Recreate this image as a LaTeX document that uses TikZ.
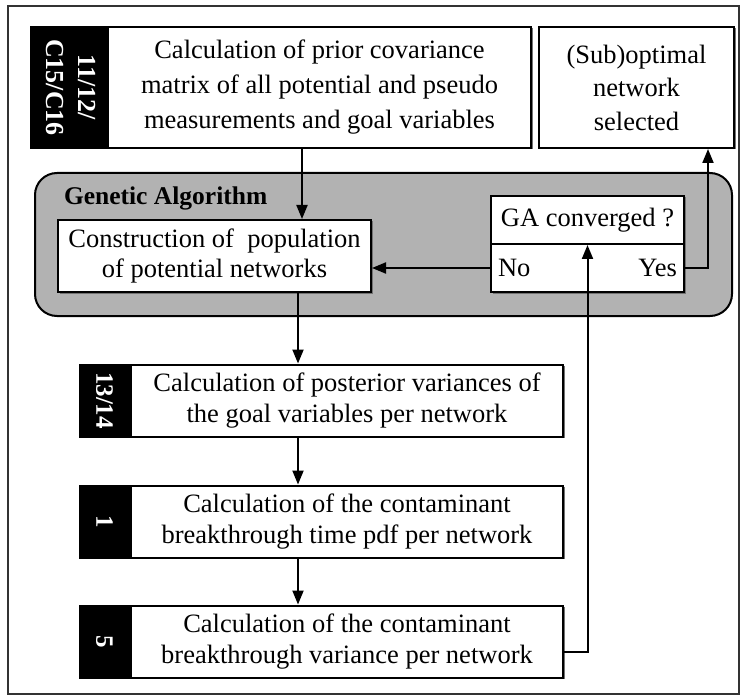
\documentclass[tikz,border=0pt]{standalone}
\usepackage{graphicx}
\usepackage{fontspec}
\setmainfont{Liberation Serif}
\usetikzlibrary{arrows.meta,positioning,shadows}

\tikzset{
  wh/.style 2 args={minimum width=#1, minimum height=#2},
  stepbox/.style={draw, fill=white, align=center, inner sep=0pt,
    font=\fontsize{26.5}{31.5}\selectfont,
    drop shadow={shadow xshift=1.5pt, shadow yshift=-1.5pt, fill=black!55, opacity=1}},
  widestep/.style={stepbox, font=\fontsize{26.5}{35}\selectfont},
  tabbox/.style={draw, fill=black, text=white, inner sep=0pt,
    font=\fontsize{25}{32}\selectfont\bfseries},
  garegion/.style={draw, fill=black!30, rounded corners=22pt, inner sep=0pt},
  answer/.style={inner sep=0pt, font=\fontsize{26.5}{32}\selectfont},
}

\begin{document}
\begin{tikzpicture}[x=1pt, y=-1pt, >={Triangle[length=14pt,width=11pt]}, line width=2pt]
    \useasboundingbox (0,0) rectangle (743,700);
    \draw [line width=1.2pt, black!80] (8,6) rectangle (739,694);

    % Top row
    \node [widestep, wh={423}{121}]  (prior)    at (319.5,87.5)
        {Calculation of prior covariance\\matrix of all potential and pseudo\\measurements and goal variables};
    \node [tabbox, wh={75}{121}, anchor=east, font=\fontsize{26}{32}\selectfont\bfseries] (priortab) at (prior.west)
        {\rotatebox{-90}{\begin{tabular}{@{}c@{}}11/12/\\C15/C16\end{tabular}}};
    \node [widestep, wh={195}{121}, font=\fontsize{26.5}{33.5}\selectfont]  (subopt)   at (636.5,87.5)
        {(Sub)optimal\\network\\selected};

    % Genetic algorithm block
    \node [garegion, wh={697}{143}] (ga)       at (383.5,244.5) {};
    \node [answer, anchor=west, font=\fontsize{25.5}{30}\selectfont\bfseries] (galabel) at (63,198)
        {Genetic Algorithm};
    \node [stepbox, wh={313}{72}, font=\fontsize{26.5}{30}\selectfont]   (construct) at (214.5,256)
        {Construction of~ population\\of potential networks};
    \node [stepbox, wh={193}{48}]   (convq)    at (587.5,220) {GA converged ?};
    \node [stepbox, wh={193}{48}]   (convans)  at (587.5,268) {};
    \node [answer, anchor=west] (no)  at ([xshift=7pt]convans.west)  {No};
    \node [answer, anchor=east] (yes) at ([xshift=-7pt]convans.east) {Yes};

    % Lower steps
    \node [stepbox, wh={432}{72}]   (post)     at (347,400.5)
        {Calculation of posterior variances of\\the goal variables per network};
    \node [tabbox, wh={49}{72}, anchor=east] (posttab) at (post.west) {\rotatebox{-90}{13/14}};
    \node [stepbox, wh={432}{72}]   (pdf)      at (347,521.5)
        {Calculation of the contaminant\\breakthrough time pdf per network};
    \node [tabbox, wh={49}{72}, anchor=east] (pdftab)  at (pdf.west)  {\rotatebox{-90}{1}};
    \node [stepbox, wh={432}{72}]   (var)      at (347,641.5)
        {Calculation of the contaminant\\breakthrough variance per network};
    \node [tabbox, wh={49}{72}, anchor=east] (vartab)  at (var.west)  {\rotatebox{-90}{5}};

    % Paths
    \coordinate (spine) at (298,0);
    \draw [->] ([xshift=-17.5pt]prior.south) -- ([xshift=-17.5pt]prior.south |- construct.north);
    \draw [->] (convans.west) -- (convans.west -| construct.east);
    \draw [->] (convans.east) -| ([xshift=71.5pt]subopt.south);
    \draw [->] (construct.south -| spine) -- (post.north -| spine);
    \draw [->] (post.south -| spine) -- (pdf.north -| spine);
    \draw [->] (pdf.south -| spine) -- (var.north -| spine);
    \draw [->] ([yshift=-10.5pt]var.east) -| (convq.south);

\end{tikzpicture}
\end{document}
